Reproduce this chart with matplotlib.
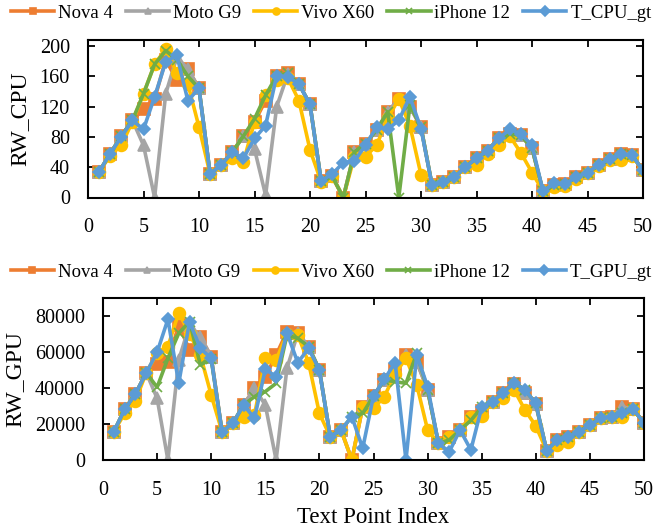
import numpy as np
import matplotlib
matplotlib.use("Agg")
import matplotlib.pyplot as plt

plt.rcParams['font.family'] = ['Liberation Serif', 'DejaVu Serif']

# x positions: text point index
idx = list(range(1, 51))

# ---- CPU (top panel) ----
cpu_nova4 = [34, 58, 81, 102, 117, 130, 182, 155, 170, 144,
             31, 43, 60, 81, 100, 128, 160, 164, 150, 123,
             22, 28, 0, 60, 71, 89, 113, 130, 120, 93,
             16, 21, 27, 40, 52, 62, 78, 84, 82, 65,
             8, 17, 18, 27, 33, 43, 51, 57, 56, 36]
cpu_motog9 = [34, 58, 81, 102, 69, 0, 137, 185, 170, 144,
              31, 43, 60, 81, 64, 3, 120, 163, 150, 123,
              22, 28, 0, 60, 71, 89, 113, 130, 120, 93,
              16, 21, 27, 40, 52, 62, 78, 84, 82, 65,
              8, 17, 18, 27, 33, 43, 51, 57, 56, 36]
cpu_vivox60 = [34, 55, 69, 100, 137, 176, 196, 165, 150, 93,
               31, 43, 52, 47, 100, 135, 155, 158, 128, 63,
               21, 28, 0, 54, 54, 69, 105, 130, 95, 30,
               16, 21, 27, 40, 43, 58, 69, 81, 59, 33,
               8, 14, 15, 25, 33, 42, 50, 49, 55, 36]
cpu_iphone12 = [34, 58, 81, 102, 137, 176, 194, 182, 160, 144,
                31, 43, 60, 81, 104, 135, 161, 164, 150, 123,
                22, 28, 0, 60, 71, 89, 113, 0, 122, 93,
                16, 21, 27, 40, 52, 62, 78, 84, 82, 65,
                8, 17, 18, 27, 33, 43, 51, 57, 56, 36]
cpu_gt = [34, 58, 80, 102, 90, 133, 179, 188, 128, 144,
          31, 43, 60, 52, 78, 95, 161, 159, 150, 123,
          22, 31, 46, 48, 69, 93, 90, 102, 133, 91,
          16, 21, 27, 40, 52, 62, 78, 90, 84, 69,
          8, 19, 18, 27, 33, 43, 51, 57, 56, 36]

# ---- GPU (bottom panel) ----
gpu_nova4 = [15700, 28100, 36700, 48500, 53300, 54600, 75000, 61100, 68500, 57400,
             15700, 20400, 30600, 39800, 46300, 58300, 71300, 70400, 63000, 50000,
             13000, 16700, 0, 29600, 35600, 44400, 50000, 58300, 54600, 38900,
             9300, 13000, 16700, 24100, 27000, 32400, 37400, 42000, 37000, 31000,
             5200, 11100, 13000, 15700, 19400, 23100, 24100, 29600, 28100, 20700]
gpu_motog9 = [15700, 28100, 36700, 48500, 34300, 0, 55600, 75000, 68500, 57400,
              15700, 20400, 30600, 39800, 30600, 0, 50900, 70400, 63000, 50000,
              13000, 16700, 0, 29600, 35600, 44400, 50000, 58300, 54600, 38900,
              9300, 13000, 16700, 24100, 27000, 32400, 37400, 42000, 37000, 31000,
              5200, 11100, 13000, 15700, 19400, 23100, 24100, 29600, 28100, 20700]
gpu_vivox60 = [15700, 25900, 33000, 48500, 59300, 63000, 81900, 70000, 58300, 36100,
               15700, 20400, 24100, 25000, 56500, 55600, 70000, 69400, 54100, 25900,
               13000, 16700, 0, 29600, 28700, 35200, 48000, 56500, 41700, 16700,
               9300, 13000, 16700, 24100, 24400, 32400, 34300, 38900, 27800, 18900,
               5200, 8300, 10200, 15700, 19400, 23100, 24100, 24100, 28100, 20700]
gpu_iphone12 = [15700, 28100, 36700, 48500, 40400, 56500, 70400, 76900, 52800, 56000,
                15700, 20400, 30600, 35200, 38000, 42600, 69400, 67600, 63000, 50000,
                13000, 16700, 24100, 25900, 35600, 44400, 43500, 42600, 59300, 38900,
                9300, 11100, 16700, 22000, 29300, 32400, 37400, 43000, 38900, 31500,
                5200, 11100, 13000, 15700, 19400, 23100, 24100, 26300, 28100, 20700]
gpu_gt = [15700, 28100, 36700, 48500, 59800, 78200, 42600, 76900, 62000, 56500,
          15700, 20400, 30600, 23100, 50400, 46300, 70700, 54100, 62000, 50000,
          13000, 16700, 24100, 6500, 35600, 44800, 54100, 0, 58300, 40700,
          9300, 4600, 16700, 5600, 29300, 32400, 37400, 43000, 38900, 31500,
          5200, 11100, 13000, 15700, 19400, 23100, 24100, 26300, 28100, 20700]

names = ['Nova 4', 'Moto G9', 'Vivo X60', 'iPhone 12']
colors = ['#ED7D31', '#A5A5A5', '#FFC000', '#70AD47', '#5B9BD5']
markers = ['s', '^', 'o', 'x', 'D']
msizes = [8, 8, 8.5, 7, 6.5]


def draw_panel(ax, series, labels, ylim, yticks, ylabel, leg_y):
    for s, lab, c, m, ms in zip(series, labels, colors, markers, msizes):
        ax.plot(idx, s, color=c, lw=2.6, marker=m, ms=ms, mew=1.2,
                mec=c, mfc=c, label=lab)
    ax.set_xlim(0, 50)
    ax.set_xticks(range(0, 51, 5))
    ax.set_ylim(*ylim)
    ax.set_yticks(yticks)
    ax.set_ylabel(ylabel, fontsize=17, labelpad=7)
    ax.tick_params(direction='in', top=True, right=True, length=5,
                   width=1.3, labelsize=14.5)
    ax.tick_params(axis='x', pad=15)
    ax.tick_params(axis='y', pad=13)
    for sp in ax.spines.values():
        sp.set_linewidth(1.5)
    leg = fig.legend(*ax.get_legend_handles_labels(), loc='center',
                     bbox_to_anchor=(0.505, leg_y), ncol=5, frameon=False,
                     fontsize=13.5, handlelength=2.3, handletextpad=0.2,
                     columnspacing=0.7, borderaxespad=0.0, borderpad=0.0)
    for h in leg.legend_handles:
        h.set_markersize(5)
        h.set_linewidth(2.6)


fig = plt.figure(figsize=(6.56, 5.31), dpi=100)

ax1 = fig.add_axes([88 / 656, 1 - 197.5 / 531, (643 - 88) / 656, (197.5 - 40) / 531])
draw_panel(ax1, [cpu_nova4, cpu_motog9, cpu_vivox60, cpu_iphone12, cpu_gt],
           names + ['T_CPU_gt'], (0, 208), range(0, 201, 40), 'RW_CPU',
           1 - 13 / 531)

ax2 = fig.add_axes([103 / 656, 1 - 460 / 531, (644 - 103) / 656, (460 - 298) / 531])
draw_panel(ax2, [gpu_nova4, gpu_motog9, gpu_vivox60, gpu_iphone12, gpu_gt],
           names + ['T_GPU_gt'], (0, 90000), range(0, 80001, 20000), 'RW_GPU',
           1 - 272 / 531)
ax2.set_xlabel('Text Point Index', fontsize=16.5, labelpad=5)

fig.savefig('out.png', dpi=100)
